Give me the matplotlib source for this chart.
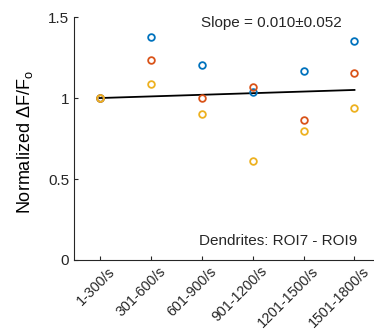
import numpy as np
import matplotlib
matplotlib.use("Agg")
from matplotlib import pyplot as plt
from matplotlib import transforms

plt.rcParams['font.family'] = ['Liberation Sans', 'DejaVu Sans']
plt.rcParams['mathtext.fontset'] = 'custom'
plt.rcParams['mathtext.rm'] = 'Liberation Sans'
plt.rcParams['mathtext.it'] = 'Liberation Sans'

# data
bins = ['1-300/s', '301-600/s', '601-900/s', '901-1200/s', '1201-1500/s', '1501-1800/s']
roi7 = [1.0, 1.377, 1.202, 1.035, 1.165, 1.352]
roi8 = [1.0, 1.237, 1.002, 1.066, 0.866, 1.154]
roi9 = [1.0, 1.086, 0.901, 0.611, 0.798, 0.936]
fit_slope = 0.010
fit_intercept = 0.990
slope_text = 'Slope = 0.010\u00b10.052'
group_text = 'Dendrites: ROI7 - ROI9'

colors = ['#0072BD', '#D95319', '#EDB120']
axcol = '#262626'

fig = plt.figure(figsize=(3.74, 3.35), dpi=100)
ax = fig.add_axes([0.198, 0.224, 0.818, 0.725])

x = np.arange(1, len(bins) + 1)
for vals, c in zip([roi7, roi8, roi9], colors):
    ax.plot(x, vals, 'o', mfc='none', mec=c, ms=4.8, mew=1.3, zorder=3)

xf = np.array([x[0], x[-1]])
ax.plot(xf, fit_intercept + fit_slope * xf, color='black', lw=1.3, zorder=2)

ax.set_xlim(0.5, 6.5)
ax.set_ylim(0, 1.5)
ax.set_yticks([0, 0.5, 1, 1.5])
ax.set_yticklabels(['0', '0.5', '1', '1.5'])
ax.set_xticks(x)
ax.set_xticklabels(bins, rotation=45, ha='right', rotation_mode='anchor')

ax.spines['top'].set_visible(False)
ax.spines['right'].set_visible(False)
for s in ['left', 'bottom']:
    ax.spines[s].set_color(axcol)
    ax.spines[s].set_linewidth(0.8)
ax.tick_params(direction='in', length=3, width=0.8, colors=axcol, labelsize=11)
ax.tick_params(axis='x', pad=3, labelsize=10.3)

# nudge rotated labels to the right like the reference
shift = transforms.ScaledTranslation(8 / 100, 0, fig.dpi_scale_trans)
for lab in ax.get_xticklabels():
    lab.set_transform(lab.get_transform() + shift)

ax.set_ylabel('Normalized \u0394F/F$_{\\mathrm{o}}$', fontsize=13, color='black')
ax.yaxis.set_label_coords(-0.128, 0.486)

ax.text(2.98, 1.463, slope_text, fontsize=11, va='center', ha='left', color=axcol)
ax.text(2.95, 0.119, group_text, fontsize=11, va='center', ha='left', color=axcol)

plt.savefig('out.png', dpi=100)
